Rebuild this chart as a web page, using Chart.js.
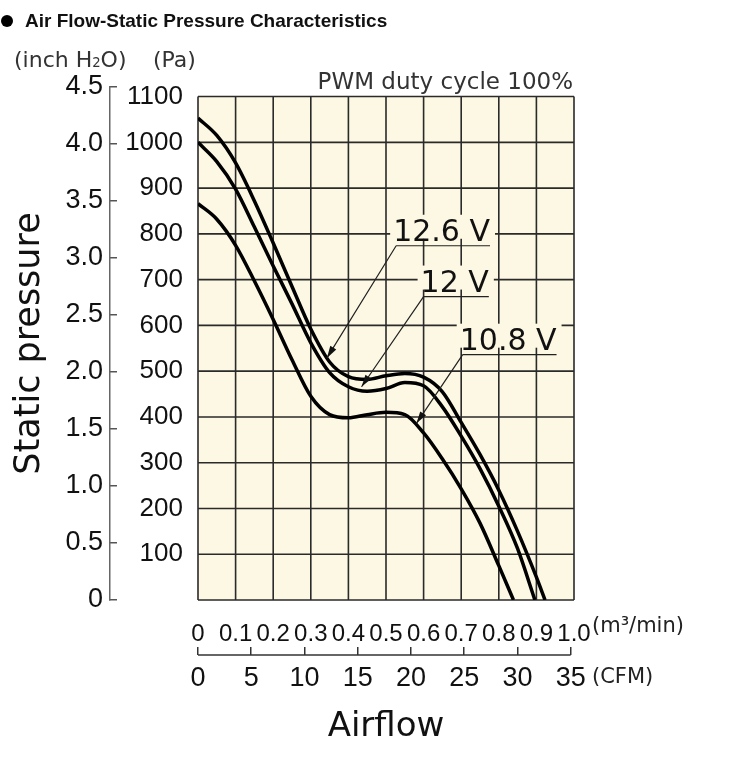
<!DOCTYPE html>
<html>
<head>
<meta charset="utf-8">
<title>Air Flow-Static Pressure Characteristics</title>
<script src="https://cdn.jsdelivr.net/npm/chart.js@4.4.0/dist/chart.umd.min.js"></script>
<style>
  body { margin: 0; background: #fff; }
  #wrap { position: relative; width: 756px; height: 762px; }
  #fanChart { position: absolute; left: 0; top: 0; }
  .heading { position: absolute; left: 0; top: 10px; font: bold 19px "Liberation Sans", Arial, sans-serif; color: #111; white-space: pre; }
  .heading .dot { display: inline-block; width: 12px; height: 12px; border-radius: 50%; background: #000; margin: 0 12px 0 1px; }
  .units { position: absolute; top: 47px; font: 22px "DejaVu Sans", sans-serif; color: #333; white-space: pre; }
  .units sub { font-size: 0.6em; vertical-align: 0; }
</style>
</head>
<body>
<div id="wrap">
  <canvas id="fanChart" width="756" height="762"></canvas>
  <div class="heading"><span class="dot"></span>Air Flow-Static Pressure Characteristics</div>
  <div class="units" style="left:14px">(inch H<sub>2</sub>O)</div>
  <div class="units" style="left:153px">(Pa)</div>
</div>
<script>
// axis ticks
const flowTicks = [0, 0.1, 0.2, 0.3, 0.4, 0.5, 0.6, 0.7, 0.8, 0.9, 1.0];
const cfmTicks = [0, 5, 10, 15, 20, 25, 30, 35];
const paTicks = [100, 200, 300, 400, 500, 600, 700, 800, 900, 1000, 1100];
const inchTicks = [0, 0.5, 1.0, 1.5, 2.0, 2.5, 3.0, 3.5, 4.0, 4.5];

// curves (m3/min, Pa)
const flow126 = [0, 0.05, 0.1, 0.15, 0.2, 0.25, 0.3, 0.35, 0.4, 0.45, 0.5, 0.55, 0.6, 0.65, 0.7, 0.75, 0.8, 0.85, 0.9, 0.923];
const pres126 = [1053, 1015, 955, 872, 780, 685, 592, 520, 488, 482, 490, 495, 487, 455, 388, 318, 240, 150, 50, 0];
const flow120 = [0, 0.05, 0.1, 0.15, 0.2, 0.25, 0.3, 0.35, 0.4, 0.45, 0.5, 0.55, 0.6, 0.65, 0.7, 0.75, 0.8, 0.85, 0.896];
const pres120 = [1000, 958, 898, 815, 730, 647, 562, 497, 466, 456, 462, 475, 468, 422, 358, 287, 205, 112, 0];
const flow108 = [0, 0.05, 0.1, 0.15, 0.2, 0.25, 0.3, 0.35, 0.4, 0.45, 0.5, 0.55, 0.6, 0.65, 0.7, 0.75, 0.8, 0.839];
const pres108 = [866, 832, 775, 697, 613, 525, 445, 405, 398, 405, 410, 405, 365, 308, 243, 168, 75, 0];

// callouts: label, underline start (m3/min, Pa), arrow tip (m3/min, Pa)
const calloutNames = ["12.6 V", "12 V", "10.8 V"];
const calloutAt = [[0.527, 774], [0.600, 663], [0.704, 536]];
const calloutTip = [[0.343, 529], [0.435, 466], [0.581, 386]];

const PA_PER_INCH = 249.089;
const CFM_PER_M3MIN = 35.3147;
const cream = "#fcf8e3";
const ink = "#111";
const tickFont = "'Liberation Sans', Arial, sans-serif";
const roundFont = "'DejaVu Sans', Verdana, sans-serif";

function toPoints(xs, ys) {
  return xs.map((v, i) => ({ x: v, y: ys[i] }));
}

function curve(label, xs, ys) {
  return {
    label: label,
    data: toPoints(xs, ys),
    borderColor: "#000",
    borderWidth: 3.5,
    pointRadius: 0,
    fill: false,
    cubicInterpolationMode: "monotone",
  };
}

// cream paper with its grid, drawn from the scales
const paperGrid = {
  id: "paperGrid",
  beforeDatasetsDraw(chart) {
    const { ctx, scales } = chart;
    const x = scales.x, y = scales.y;
    const left = x.getPixelForValue(0), right = x.getPixelForValue(1);
    const top = y.getPixelForValue(1100), bottom = y.getPixelForValue(0);
    ctx.save();
    ctx.fillStyle = cream;
    ctx.fillRect(left, top, right - left, bottom - top);
    ctx.strokeStyle = "#2a2a2a";
    ctx.lineWidth = 1.6;
    ctx.beginPath();
    flowTicks.forEach(v => {
      const px = x.getPixelForValue(v);
      ctx.moveTo(px, top);
      ctx.lineTo(px, bottom);
    });
    [0].concat(paTicks).forEach(v => {
      const py = y.getPixelForValue(v);
      ctx.moveTo(left, py);
      ctx.lineTo(right, py);
    });
    ctx.stroke();
    ctx.restore();
  },
  afterDatasetsDraw(chart) {
    const { ctx, scales } = chart;
    const x = scales.x, y = scales.y;
    ctx.save();
    ctx.font = "30px " + roundFont;
    calloutNames.forEach((name, i) => {
      const ux = x.getPixelForValue(calloutAt[i][0]);
      const uy = y.getPixelForValue(calloutAt[i][1]);
      const tx = x.getPixelForValue(calloutTip[i][0]);
      const ty = y.getPixelForValue(calloutTip[i][1]);
      const w = ctx.measureText(name).width;
      ctx.fillStyle = cream;
      ctx.fillRect(ux - 6, uy - 31, w + 8, 24);
      ctx.fillStyle = ink;
      ctx.textBaseline = "alphabetic";
      ctx.textAlign = "left";
      ctx.fillText(name, ux - 3, uy - 5);
      ctx.strokeStyle = "#222";
      ctx.lineWidth = 1.2;
      ctx.beginPath();
      ctx.moveTo(ux, uy);
      ctx.lineTo(ux + w - 3, uy);
      ctx.moveTo(ux, uy);
      ctx.lineTo(tx, ty);
      ctx.stroke();
      // arrow head
      const a = Math.atan2(ty - uy, tx - ux);
      const len = 12, half = 3.5;
      ctx.fillStyle = "#111";
      ctx.beginPath();
      ctx.moveTo(tx, ty);
      ctx.lineTo(tx - len * Math.cos(a) + half * Math.sin(a), ty - len * Math.sin(a) - half * Math.cos(a));
      ctx.lineTo(tx - len * Math.cos(a) - half * Math.sin(a), ty - len * Math.sin(a) + half * Math.cos(a));
      ctx.closePath();
      ctx.fill();
    });
    ctx.restore();
  },
  afterDraw(chart) {
    const { ctx, scales } = chart;
    const x = scales.x, y = scales.y, cfm = scales.cfm;
    ctx.save();
    // CFM axis line, 0..35 only
    ctx.strokeStyle = "#333";
    ctx.lineWidth = 1.5;
    ctx.beginPath();
    ctx.moveTo(cfm.getPixelForValue(0), cfm.top);
    ctx.lineTo(cfm.getPixelForValue(35), cfm.top);
    ctx.stroke();
    ctx.fillStyle = "#222";
    ctx.textBaseline = "middle";
    ctx.textAlign = "left";
    ctx.font = "21px " + roundFont;
    ctx.fillText("(m³/min)", x.right + 18, x.top + 27);
    ctx.fillText("(CFM)", x.right + 18, cfm.top + 23);
    ctx.textAlign = "right";
    ctx.textBaseline = "alphabetic";
    ctx.font = "23px " + roundFont;
    ctx.fillStyle = "#333";
    ctx.fillText("PWM duty cycle 100%", x.right - 1, y.getPixelForValue(1100) - 8);
    ctx.restore();
  },
};

const ctx = document.getElementById("fanChart").getContext("2d");

new Chart(ctx, {
  type: "line",
  data: {
    datasets: [
      curve(calloutNames[0], flow126, pres126),
      curve(calloutNames[1], flow120, pres120),
      curve(calloutNames[2], flow108, pres108),
    ],
  },
  options: {
    responsive: false,
    animation: false,
    devicePixelRatio: 1,
    layout: { padding: { top: 87, right: 182, bottom: 0, left: 0 } },
    plugins: {
      legend: { display: false },
      tooltip: { enabled: false },
    },
    scales: {
      x: {
        type: "linear",
        position: "bottom",
        weight: 1,
        min: 0,
        max: 1,
        afterBuildTicks: s => { s.ticks = flowTicks.map(v => ({ value: v })); },
        afterFit: s => { s.height = 55; },
        grid: { display: false },
        border: { display: false },
        ticks: {
          padding: 12,
          maxRotation: 0,
          autoSkip: false,
          color: ink,
          font: { family: tickFont, size: 24 },
          callback: v => (v === 0 ? "0" : v.toFixed(1)),
        },
      },
      cfm: {
        type: "linear",
        position: "bottom",
        weight: 2,
        min: 0,
        max: CFM_PER_M3MIN,
        afterBuildTicks: s => { s.ticks = cfmTicks.map(v => ({ value: v })); },
        afterFit: s => { s.height = 107; },
        grid: { display: true, drawOnChartArea: false, drawTicks: true, tickLength: -8, color: "#333", lineWidth: 1.5 },
        border: { display: false },
        ticks: {
          padding: 15,
          maxRotation: 0,
          autoSkip: false,
          color: ink,
          font: { family: tickFont, size: 27 },
          callback: v => String(v),
        },
        title: {
          display: true,
          text: "Airflow",
          color: ink,
          font: { family: roundFont, size: 34 },
          padding: { top: 0, bottom: 14 },
        },
      },
      y: {
        type: "linear",
        position: "left",
        weight: 1,
        min: 0,
        max: 4.5 * PA_PER_INCH,
        afterBuildTicks: s => { s.ticks = paTicks.map(v => ({ value: v })); },
        afterFit: s => { s.width = 88; },
        grid: { display: false },
        border: { display: false },
        ticks: {
          padding: 7,
          color: ink,
          font: { family: tickFont, size: 26 },
          callback: v => String(v),
        },
      },
      inch: {
        type: "linear",
        position: "left",
        weight: 2,
        min: 0,
        max: 4.5,
        afterBuildTicks: s => { s.ticks = inchTicks.map(v => ({ value: v })); },
        afterFit: s => { s.width = 110; },
        grid: { display: true, drawOnChartArea: false, drawTicks: true, tickLength: -7, color: "#555", lineWidth: 1.5 },
        border: { display: true, color: "#666", width: 1.5 },
        ticks: {
          padding: 14,
          color: ink,
          font: { family: tickFont, size: 27 },
          callback: v => (v === 0 ? "0" : v.toFixed(1)),
        },
        title: {
          display: true,
          text: "Static pressure",
          color: ink,
          font: { family: roundFont, size: 35 },
          padding: { top: 9, bottom: 0 },
        },
      },
    },
  },
  plugins: [paperGrid],
});
</script>
</body>
</html>
